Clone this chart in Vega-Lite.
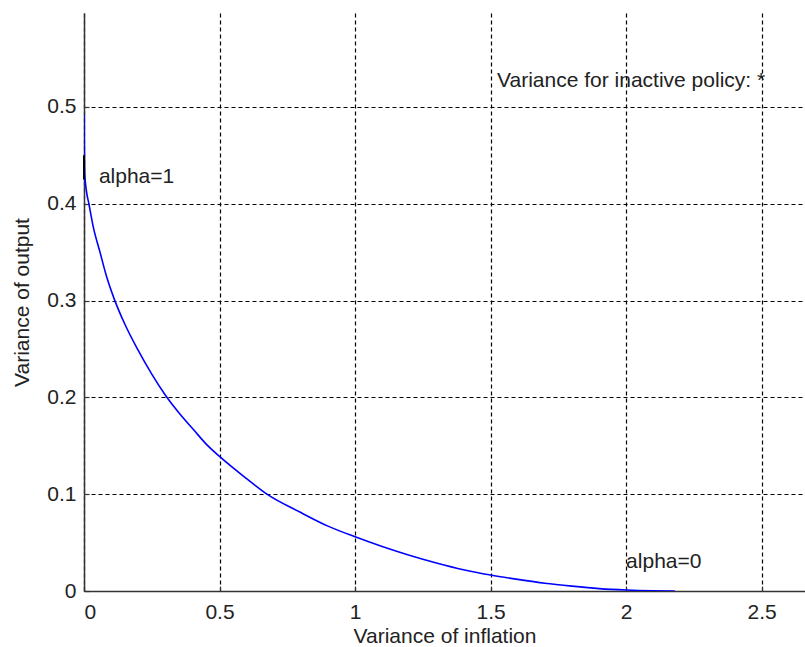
{
  "$schema": "https://vega.github.io/schema/vega-lite/v6.json",
  "width": 721,
  "height": 578,
  "autosize": {"type": "none"},
  "padding": {"left": 84, "top": 13, "right": 0, "bottom": 56},
  "background": "white",
  "config": {
    "view": {"stroke": null},
    "font": "Liberation Sans",
    "axis": {
      "grid": true,
      "gridColor": "#000000",
      "gridDash": [4, 3],
      "gridWidth": 1.2,
      "gridOpacity": 1,
      "domainColor": "#333333",
      "domainWidth": 1.5,
      "tickColor": "#333333",
      "tickSize": -5,
      "tickWidth": 1.2,
      "labelFont": "Liberation Sans",
      "labelFontSize": 21,
      "labelColor": "#222222",
      "titleFont": "Liberation Sans",
      "titleFontSize": 21,
      "titleFontWeight": "normal",
      "titleColor": "#222222"
    }
  },
  "datasets": {
    "curve": [
      {"vx": 0, "vy": 0.492},
      {"vx": 0.001, "vy": 0.46},
      {"vx": 0.003, "vy": 0.43},
      {"vx": 0.008, "vy": 0.415},
      {"vx": 0.018, "vy": 0.4},
      {"vx": 0.035, "vy": 0.375},
      {"vx": 0.059, "vy": 0.35},
      {"vx": 0.083, "vy": 0.325},
      {"vx": 0.111, "vy": 0.302},
      {"vx": 0.15, "vy": 0.276},
      {"vx": 0.197, "vy": 0.25},
      {"vx": 0.25, "vy": 0.224},
      {"vx": 0.301, "vy": 0.202},
      {"vx": 0.35, "vy": 0.184},
      {"vx": 0.406, "vy": 0.166},
      {"vx": 0.45, "vy": 0.152},
      {"vx": 0.5, "vy": 0.139},
      {"vx": 0.6, "vy": 0.116},
      {"vx": 0.675, "vy": 0.1},
      {"vx": 0.8, "vy": 0.081},
      {"vx": 0.9, "vy": 0.067},
      {"vx": 1.0, "vy": 0.056},
      {"vx": 1.1, "vy": 0.046},
      {"vx": 1.2, "vy": 0.037},
      {"vx": 1.3, "vy": 0.029},
      {"vx": 1.4, "vy": 0.022},
      {"vx": 1.5, "vy": 0.0165},
      {"vx": 1.6, "vy": 0.012},
      {"vx": 1.7, "vy": 0.008},
      {"vx": 1.8, "vy": 0.005},
      {"vx": 1.9, "vy": 0.0025},
      {"vx": 2.0, "vy": 0.001},
      {"vx": 2.1, "vy": 0.0002},
      {"vx": 2.18, "vy": 0}
    ],
    "marker": [
      {"vx": 0, "vy": 0.425, "vy2": 0.45}
    ],
    "notes": [
      {"vx": 0.055, "vy": 0.4215, "label": "alpha=1"},
      {"vx": 2.0, "vy": 0.0238, "label": "alpha=0"},
      {"vx": 1.524, "vy": 0.521, "label": "Variance for inactive policy: *"}
    ]
  },
  "layer": [
    {
      "data": {"name": "curve"},
      "mark": {"type": "line", "color": "#0000ff", "strokeWidth": 1.6, "interpolate": "monotone", "clip": true},
      "encoding": {
        "x": {
          "field": "vx", "type": "quantitative",
          "scale": {"domain": [0, 2.66], "nice": false, "zero": false},
          "axis": {
            "values": [0, 0.5, 1, 1.5, 2, 2.5],
            "format": "~g",
            "labelPadding": 15,
            "titlePadding": 3,
            "title": "Variance of inflation"
          }
        },
        "y": {
          "field": "vy", "type": "quantitative",
          "scale": {"domain": [0, 0.597], "nice": false, "zero": false},
          "axis": {
            "values": [0, 0.1, 0.2, 0.3, 0.4, 0.5],
            "format": "~g",
            "labelPadding": 13,
            "titlePadding": 14,
            "title": "Variance of output"
          }
        }
      }
    },
    {
      "data": {"name": "marker"},
      "mark": {"type": "rule", "color": "#000000", "strokeWidth": 2},
      "encoding": {
        "x": {"field": "vx", "type": "quantitative"},
        "y": {"field": "vy", "type": "quantitative"},
        "y2": {"field": "vy2"}
      }
    },
    {
      "data": {"name": "notes"},
      "mark": {"type": "text", "align": "left", "baseline": "alphabetic", "font": "Liberation Sans", "fontSize": 21, "color": "#222222"},
      "encoding": {
        "x": {"field": "vx", "type": "quantitative"},
        "y": {"field": "vy", "type": "quantitative"},
        "text": {"field": "label"}
      }
    },
    {
      "mark": {"type": "rule", "color": "#333333", "strokeWidth": 1.5},
      "encoding": {
        "y": {"datum": 0.597}
      }
    }
  ]
}
